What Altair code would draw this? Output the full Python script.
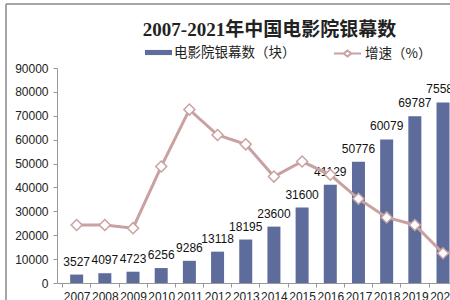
import altair as alt
import pandas as pd

years = [2007, 2008, 2009, 2010, 2011, 2012, 2013, 2014, 2015, 2016, 2017, 2018, 2019, 2020, 2021]
screens = [3527, 4097, 4723, 6256, 9286, 13118, 18195, 23600, 31600, 41129, 50776, 60079, 69787, 75581, 82248]
growth = [16.2, 16.2, 15.3, 32.5, 48.4, 41.3, 38.7, 29.7, 33.9, 30.2, 23.5, 18.3, 16.2, 8.3, 8.8]
y_ticks = [0, 10000, 20000, 30000, 40000, 50000, 60000, 70000, 80000, 90000]

BAR_NAME = "电影院银幕数（块）"
LINE_NAME = "增速（%）"
BAR_COLOR = "#5d6c9b"
LINE_COLOR = "#c9a1a1"

df = pd.DataFrame({"year": years, "screens": screens, "growth": growth})

x_scale = alt.Scale(domain=[2006.48, 2020.07], nice=False, zero=False)
half = 14.46

x_axis = alt.Axis(
    values=years[:-1], format="d", title=None, grid=False,
    labelFont="Liberation Sans", labelFontSize=12, labelColor="#222",
    labelFlush=False, labelOverlap=False, labelPadding=4,
    tickOffset=-half, labelOffset=half, tickSize=4,
    tickColor="#999", domainColor="#999",
)
X = alt.X("year:Q", scale=x_scale, axis=x_axis)

y_axis = alt.Axis(values=y_ticks, format="d", title=None, grid=False, labelOverlap=False,
                  labelFlush=False,
                  labelFont="Liberation Sans", labelFontSize=12, labelColor="#222",
                  labelPadding=5, tickSize=4, tickColor="#999", domainColor="#999")
Y1 = alt.Y("screens:Q", scale=alt.Scale(domain=[0, 90000], nice=False), axis=y_axis)
Y2 = alt.Y("growth:Q", scale=alt.Scale(domain=[0, 60], nice=False), axis=None)

base = alt.Chart(df).transform_calculate(bs=f"'{BAR_NAME}'", ls=f"'{LINE_NAME}'")

bars = base.mark_bar(size=13, clip=True).encode(
    x=X, y=Y1,
    fill=alt.Fill("bs:N", scale=alt.Scale(domain=[BAR_NAME], range=[BAR_COLOR]),
                  legend=alt.Legend(title=None, orient="none", legendX=88, legendY=-29,
                                    symbolType="M-1,-0.19H1V0.19H-1Z", symbolSize=729,
                                    symbolStrokeWidth=0, labelOffset=2, padding=0,
                                    labelFont="Noto Sans CJK SC", labelFontSize=13.5,
                                    labelColor="#222")),
)

labels = base.mark_text(dy=-9, baseline="alphabetic", font="Liberation Sans", fontSize=12,
                        color="#111", clip=True).encode(
    x=X, y=Y1,
    text=alt.Text("screens:Q", format="d"),
)

bar_layer = alt.layer(bars, labels)

line = base.mark_line(strokeWidth=3, clip=True).encode(
    x=X, y=Y2,
    stroke=alt.Stroke("ls:N", scale=alt.Scale(domain=[LINE_NAME], range=[LINE_COLOR]),
                      legend=alt.Legend(title=None, orient="none", legendX=276, legendY=-29,
                                        symbolType="M-1,0H-0.28M0.28,0H1M0,-0.22L0.28,0L0,0.22L-0.28,0Z",
                                        symbolSize=729, symbolStrokeWidth=2,
                                        symbolFillColor="white", labelOffset=3, padding=0,
                                        labelFont="Noto Sans CJK SC", labelFontSize=13.5,
                                        labelColor="#222")),
)

pts = base.mark_point(shape="diamond", filled=True, fill="white", stroke=LINE_COLOR,
                      strokeWidth=1.5, size=121, opacity=1, clip=True).encode(
    x=X, y=Y2,
)

line_layer = alt.layer(line, pts)

frame_data = alt.Data(values=[{"k": 1}])
frame_top = alt.Chart(frame_data).mark_rule(color="#888", strokeWidth=1.5).encode(
    x=alt.value(-51), x2=alt.value(400), y=alt.value(-64))
frame_left = alt.Chart(frame_data).mark_rule(color="#888", strokeWidth=1.5).encode(
    x=alt.value(-51), y=alt.value(-64), y2=alt.value(240))

chart = alt.layer(bar_layer, line_layer, frame_top, frame_left).resolve_scale(
    y="independent"
).properties(
    width=393, height=215,
    title=alt.TitleParams("2007-2021年中国电影院银幕数", font="Liberation Serif, Noto Sans CJK SC",
                          fontSize=19, fontWeight="bold", color="#222", anchor="middle",
                          frame="group", dx=16, offset=-37),
    autosize=alt.AutoSizeParams(type="none"),
    padding={"left": 57, "top": 68, "right": 0, "bottom": 17},
    background="white",
).configure_view(stroke=None)

chart.save("out.html", embed_options={"renderer": "svg", "actions": False})
